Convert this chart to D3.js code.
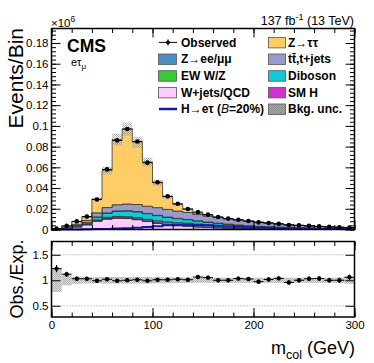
<!DOCTYPE html>
<html>
<head>
<meta charset="utf-8">
<script src="https://cdn.jsdelivr.net/npm/d3@7"></script>
<style>
  body { margin: 0; background: #fff; }
  svg { font-family: "Liberation Sans", Arial, Helvetica, sans-serif; }
  .tick line { stroke: #000; stroke-width: 1px; }
  .tick text { font-size: 11.5px; fill: #000; }
</style>
</head>
<body>
<svg id="chart" width="374" height="363"></svg>
<script>
// --- Data (events per 10 GeV bin, in units of 10^6) ---
const binLow = d3.range(0, 300, 10);

const observed = [0.00086, 0.00347, 0.00783, 0.01246, 0.0290, 0.0580, 0.0860, 0.0970, 0.0850, 0.0645,
                  0.0456, 0.0320, 0.0248, 0.0198, 0.0168, 0.0144, 0.0120, 0.0105, 0.0094, 0.0082,
                  0.0069, 0.0063, 0.0055, 0.0044, 0.0040, 0.0035, 0.0030, 0.0025, 0.0021, 0.0018];

const wjetsQCD = [0.0002, 0.0008, 0.0025, 0.0045, 0.0080, 0.0100, 0.0108, 0.0106, 0.0095, 0.0078,
                  0.0060, 0.0046, 0.0036, 0.0030, 0.0025, 0.0020, 0.0016, 0.0013, 0.0011, 0.0009,
                  0.0007, 0.0006, 0.0005, 0.0004, 0.0003, 0.0003, 0.0002, 0.0002, 0.0002, 0.0001];
const ewkWZ    = [0, 0.0001, 0.0002, 0.0003, 0.0004, 0.0005, 0.0005, 0.0005, 0.0005, 0.0004,
                  0.0004, 0.0003, 0.0003, 0.0003, 0.0002, 0.0002, 0.0002, 0.0002, 0.0001, 0.0001,
                  0.0001, 0.0001, 0.0001, 0.0001, 0.0001, 0.0001, 0.0001, 0, 0, 0];
const zLL      = [0.0001, 0.0002, 0.0004, 0.0006, 0.0009, 0.0012, 0.0013, 0.0013, 0.0014, 0.0016,
                  0.0020, 0.0024, 0.0027, 0.0028, 0.0026, 0.0023, 0.0020, 0.0017, 0.0015, 0.0013,
                  0.0011, 0.0010, 0.0009, 0.0008, 0.0007, 0.0006, 0.0005, 0.0004, 0.0004, 0.0003];
const diboson  = [0, 0.0002, 0.0006, 0.0012, 0.0028, 0.0042, 0.0052, 0.0056, 0.0057, 0.0055,
                  0.0050, 0.0044, 0.0039, 0.0034, 0.0030, 0.0026, 0.0022, 0.0019, 0.0016, 0.0013,
                  0.0011, 0.0009, 0.0008, 0.0007, 0.0006, 0.0005, 0.0004, 0.0004, 0.0003, 0.0003];
const smHiggs  = [0, 0, 0, 0, 0, 0.0001, 0.0001, 0.0001, 0.0002, 0.0002,
                  0.0003, 0.0003, 0.0002, 0.0002, 0.0001, 0.0001, 0.0001, 0.0001, 0.0001, 0,
                  0, 0, 0, 0, 0, 0, 0, 0, 0, 0];
const ttbar    = [0.0001, 0.0005, 0.0012, 0.0022, 0.0040, 0.0052, 0.0060, 0.0065, 0.0068, 0.0070,
                  0.0074, 0.0074, 0.0071, 0.0067, 0.0063, 0.0058, 0.0054, 0.0050, 0.0046, 0.0042,
                  0.0039, 0.0035, 0.0029, 0.0025, 0.0022, 0.0019, 0.0017, 0.0015, 0.0012, 0.0010];
const zTauTau  = [0.0003, 0.0013, 0.0027, 0.0033, 0.0132, 0.0357, 0.0630, 0.0724, 0.0601, 0.0427,
                  0.0240, 0.0123, 0.0065, 0.0032, 0.0011, 0.0007, 0.0005, 0.0003, 0.0001, 0.0002,
                  0.0002, 0.0001, 0.0001, 0.0001, 0.0001, 0, 0, 0, 0, 0];
const signalHet = [0, 0, 0.0001, 0.0002, 0.0004, 0.0006, 0.0009, 0.0013, 0.0018, 0.0024,
                   0.0032, 0.0040, 0.0045, 0.0046, 0.0044, 0.0040, 0.0035, 0.0030, 0.0026, 0.0022,
                   0.0019, 0.0016, 0.0013, 0.0011, 0.0009, 0.0008, 0.0006, 0.0005, 0.0004, 0.0003];
// relative background uncertainty per bin
const bkgUnc = [0.23, 0.10, 0.07, 0.06, 0.06, 0.065, 0.065, 0.065, 0.065, 0.065,
                0.06, 0.06, 0.055, 0.055, 0.05, 0.05, 0.05, 0.05, 0.05, 0.05,
                0.05, 0.05, 0.05, 0.05, 0.05, 0.05, 0.05, 0.05, 0.055, 0.07];

const yTicks = [0, 0.02, 0.04, 0.06, 0.08, 0.1, 0.12, 0.14, 0.16, 0.18];
const xTicks = [0, 100, 200, 300];
const ratioTicks = [0.5, 1, 1.5];

const colors = {
    wjets: "#ffccff", ewk: "#33cc33", zll: "#4a90c6", diboson: "#14c8dc",
    smh: "#cc33cc", ttbar: "#9999cc", ztt: "#ffcc66", signal: "#1a1aa8"
};

// --- Layout ---
const L = 51.5, R = 354.5, T1 = 28.5, B1 = 229.5, T2 = 241.5, B2 = 317;
const svg = d3.select("#chart");
const x = d3.scaleLinear().domain([0, 300]).range([L, R]);
const y = d3.scaleLinear().domain([0, 0.194]).range([B1, T1]);
const yr = d3.scaleLinear().domain([0.28, 1.76]).range([B2, T2]);

const defs = svg.append("defs");
function checker(id, col, bg) {
    const p = defs.append("pattern").attr("id", id).attr("width", 2).attr("height", 2)
        .attr("patternUnits", "userSpaceOnUse");
    if (bg) p.append("rect").attr("width", 2).attr("height", 2).attr("fill", bg);
    p.append("rect").attr("width", 1).attr("height", 1).attr("fill", col);
    p.append("rect").attr("x", 1).attr("y", 1).attr("width", 1).attr("height", 1).attr("fill", col);
}
checker("unc", "#8a8a8a", null);
checker("uncR", "#b0b0b0", "#dcdcdc");
checker("uncLeg", "#888", "#aaa");

// --- Stack ---
const keys = ["wjets", "ewk", "zll", "diboson", "smh", "ttbar", "ztt"];
const table = binLow.map((lo, i) => ({
    wjets: wjetsQCD[i], ewk: ewkWZ[i], zll: zLL[i], diboson: diboson[i],
    smh: smHiggs[i], ttbar: ttbar[i], ztt: zTauTau[i]
}));
const series = d3.stack().keys(keys)(table);
const total = series[series.length - 1].map(d => d[1]);

const stepArea = d3.area().curve(d3.curveStepAfter)
    .x(d => x(d.x)).y0(d => y(d.y0)).y1(d => y(d.y1));

const main = svg.append("g");
series.forEach(s => {
    const pts = s.map((d, i) => ({ x: binLow[i], y0: d[0], y1: d[1] }));
    pts.push({ x: 300, y0: s[s.length - 1][0], y1: s[s.length - 1][1] });
    main.append("path").attr("d", stepArea(pts))
        .attr("fill", colors[s.key]).attr("stroke", "#333").attr("stroke-width", 0.8);
});

// background uncertainty band
main.selectAll(".unc").data(binLow).enter().append("rect")
    .attr("x", d => x(d)).attr("width", d => x(d + 10) - x(d))
    .attr("y", (d, i) => y(total[i] * (1 + bkgUnc[i])))
    .attr("height", (d, i) => y(total[i] * (1 - bkgUnc[i])) - y(total[i] * (1 + bkgUnc[i])))
    .attr("fill", "url(#unc)").attr("opacity", 0.65);

// signal line
const sigPts = signalHet.map((v, i) => [binLow[i], v]).concat([[300, signalHet[29]]]);
main.append("path")
    .attr("d", d3.line().curve(d3.curveStepAfter).x(d => x(d[0])).y(d => y(d[1]))(sigPts))
    .attr("fill", "none").attr("stroke", colors.signal).attr("stroke-width", 2);

// observed data
const obsErr = observed.map(v => Math.sqrt(v * 1e6) / 1e6);
const pts = main.selectAll(".obs").data(binLow).enter().append("g");
pts.append("line").attr("x1", d => x(d)).attr("x2", d => x(d + 10))
    .attr("y1", (d, i) => y(observed[i])).attr("y2", (d, i) => y(observed[i]))
    .attr("stroke", "#000").attr("stroke-width", 1);
pts.append("line").attr("x1", d => x(d + 5)).attr("x2", d => x(d + 5))
    .attr("y1", (d, i) => y(observed[i] + obsErr[i]) - 1).attr("y2", (d, i) => y(observed[i] - obsErr[i]) + 1)
    .attr("stroke", "#000").attr("stroke-width", 1);
pts.append("circle").attr("cx", d => x(d + 5)).attr("cy", (d, i) => y(observed[i]))
    .attr("r", 2.3).attr("fill", "#000");

// --- Ratio panel ---
const rat = svg.append("g");
rat.selectAll(".grid").data(ratioTicks).enter().append("line")
    .attr("x1", L).attr("x2", R).attr("y1", d => yr(d)).attr("y2", d => yr(d))
    .attr("stroke", "#999").attr("stroke-dasharray", "1,2").attr("stroke-width", 1);
rat.selectAll(".uncR").data(binLow).enter().append("rect")
    .attr("x", d => x(d)).attr("width", d => x(d + 10) - x(d))
    .attr("y", (d, i) => yr(1 + bkgUnc[i]))
    .attr("height", (d, i) => yr(1 - bkgUnc[i]) - yr(1 + bkgUnc[i]))
    .attr("fill", "url(#uncR)");
const ratio = observed.map((v, i) => v / total[i]);
const ratioErr = obsErr.map((e, i) => e / total[i]);
const rp = rat.selectAll(".rp").data(binLow).enter().append("g");
rp.append("line").attr("x1", d => x(d)).attr("x2", d => x(d + 10))
    .attr("y1", (d, i) => yr(ratio[i])).attr("y2", (d, i) => yr(ratio[i]))
    .attr("stroke", "#000").attr("stroke-width", 1);
rp.append("line").attr("x1", d => x(d + 5)).attr("x2", d => x(d + 5))
    .attr("y1", (d, i) => yr(ratio[i] + ratioErr[i]) - 1.5).attr("y2", (d, i) => yr(ratio[i] - ratioErr[i]) + 1.5)
    .attr("stroke", "#000").attr("stroke-width", 1);
rp.append("circle").attr("cx", d => x(d + 5)).attr("cy", (d, i) => yr(ratio[i]))
    .attr("r", 2.2).attr("fill", "#000");

// --- Axes (ROOT style, ticks inward) ---
function noDomain(g) { g.select(".domain").remove(); }
const xMinor = d3.range(0, 301, 20);
[[B1, false], [T1, true], [B2, false], [T2, true]].forEach(([yy, top]) => {
    const mk = top ? d3.axisTop : d3.axisBottom;
    svg.append("g").attr("transform", `translate(0,${yy})`)
        .call(mk(x).tickValues(xMinor).tickSize(-4.5).tickFormat("")).call(noDomain);
    const showLab = (yy === B2);
    svg.append("g").attr("transform", `translate(0,${yy})`)
        .call(mk(x).tickValues(xTicks).tickSize(-9).tickPadding(4).tickFormat(showLab ? d3.format("d") : ""))
        .call(noDomain);
});
const yMinor = d3.range(0, 0.1935, 0.004);
[[L, d3.axisLeft, true], [R, d3.axisRight, false]].forEach(([xx, mk, lab]) => {
    svg.append("g").attr("transform", `translate(${xx},0)`)
        .call(mk(y).tickValues(yMinor).tickSize(-4.5).tickFormat("")).call(noDomain);
    svg.append("g").attr("transform", `translate(${xx},0)`)
        .call(mk(y).tickValues(yTicks).tickSize(-9).tickPadding(3).tickFormat(lab ? d3.format("~g") : ""))
        .call(noDomain);
    svg.append("g").attr("transform", `translate(${xx},0)`)
        .call(mk(yr).tickValues(ratioTicks).tickSize(-9).tickPadding(3).tickFormat(lab ? d3.format("~g") : ""))
        .call(noDomain);
});

// frames
[[T1, B1], [T2, B2]].forEach(([t, b]) => {
    svg.append("rect").attr("x", L).attr("y", t).attr("width", R - L).attr("height", b - t)
        .attr("fill", "none").attr("stroke", "#000").attr("stroke-width", 1.5);
});

// --- Texts ---
const mult = svg.append("text").attr("x", 51).attr("y", 26.5).attr("font-size", 11.5);
mult.append("tspan").text("×10");
mult.append("tspan").attr("font-size", 8.5).attr("dy", -5).text("6");

svg.append("text").attr("transform", "translate(23,28) rotate(-90)")
    .attr("text-anchor", "end").attr("font-size", 21).text("Events/Bin");
svg.append("text").attr("transform", "translate(23,279) rotate(-90)")
    .attr("text-anchor", "middle").attr("font-size", 18).text("Obs./Exp.");

const xt = svg.append("text").attr("x", 355).attr("y", 354).attr("text-anchor", "end").attr("font-size", 18);
xt.append("tspan").text("m");
xt.append("tspan").attr("font-size", 12.5).attr("dy", 5).text("col");
xt.append("tspan").attr("dy", -5).text(" (GeV)");

svg.append("text").attr("x", 67).attr("y", 51.7).attr("font-weight", "bold")
    .attr("font-size", 17.5).text("CMS");
const ch = svg.append("text").attr("x", 71).attr("y", 65.5).attr("font-size", 11);
ch.append("tspan").text("eτ");
ch.append("tspan").attr("font-size", 8).attr("dy", 3).text("μ");

const lumi = svg.append("text").attr("x", 354).attr("y", 24.5).attr("text-anchor", "end").attr("font-size", 12.5);
lumi.append("tspan").text("137 fb");
lumi.append("tspan").attr("font-size", 9).attr("dy", -5).text("-1");
lumi.append("tspan").attr("dy", 5).text(" (13 TeV)");

// --- Legend ---
const legRows = [46.7, 63.3, 80, 96.7, 113.3];
const leg = svg.append("g").attr("font-weight", "bold").attr("font-size", 12);
const col1 = [
    { label: "Observed", type: "obs" },
    { label: "Z→ee/μμ", type: "box", color: colors.zll },
    { label: "EW W/Z", type: "box", color: colors.ewk },
    { label: "W+jets/QCD", type: "box", color: colors.wjets },
    { label: "H→eτ (", type: "line", color: colors.signal }
];
const col2 = [
    { label: "Z→ττ", color: colors.ztt },
    { label: "tt\u0304,t+jets", color: colors.ttbar },
    { label: "Diboson", color: colors.diboson },
    { label: "SM H", color: colors.smh },
    { label: "Bkg. unc.", color: "url(#uncLeg)" }
];
col1.forEach((e, i) => {
    const yb = legRows[i], yc = yb - 4.3;
    if (e.type === "obs") {
        leg.append("line").attr("x1", 159).attr("x2", 177).attr("y1", yc).attr("y2", yc).attr("stroke", "#000");
        leg.append("line").attr("x1", 168).attr("x2", 168).attr("y1", yc - 3).attr("y2", yc + 3).attr("stroke", "#000");
        leg.append("circle").attr("cx", 168).attr("cy", yc).attr("r", 2).attr("fill", "#000");
    } else if (e.type === "box") {
        leg.append("rect").attr("x", 158.5).attr("y", yc - 5).attr("width", 18).attr("height", 10.5)
            .attr("fill", e.color).attr("stroke", "#555").attr("stroke-width", 0.8);
    } else {
        leg.append("line").attr("x1", 159).attr("x2", 177).attr("y1", yc).attr("y2", yc)
            .attr("stroke", e.color).attr("stroke-width", 2.5);
    }
    const t = leg.append("text").attr("x", 181).attr("y", yb).text(e.label);
    if (e.type === "line") {
        t.append("tspan").attr("font-style", "italic").attr("font-weight", "normal").text("B");
        t.append("tspan").text("=20%)");
    }
});
col2.forEach((e, i) => {
    const yb = legRows[i], yc = yb - 4.3;
    leg.append("rect").attr("x", 268.5).attr("y", yc - 5).attr("width", 17).attr("height", 10.5)
        .attr("fill", e.color).attr("stroke", "#555").attr("stroke-width", 0.8);
    leg.append("text").attr("x", 288).attr("y", yb).text(e.label);
});
</script>
</body>
</html>
